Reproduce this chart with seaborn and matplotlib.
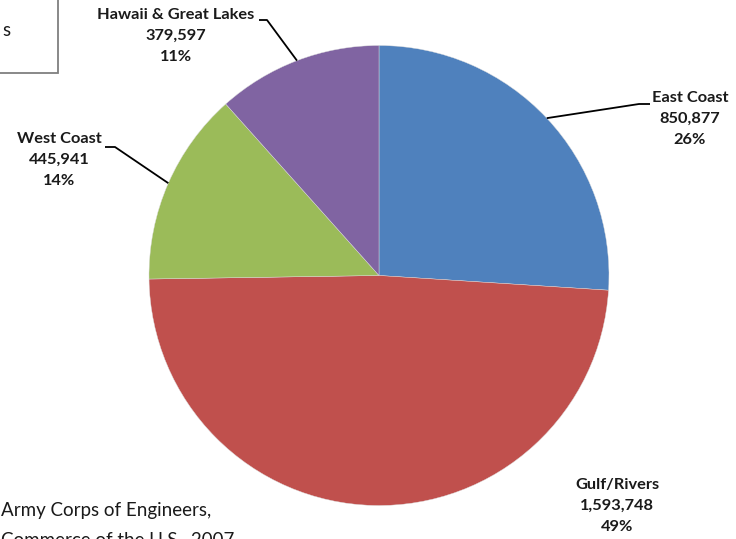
import numpy as np
import matplotlib
matplotlib.use('Agg')
import matplotlib.pyplot as plt
import seaborn as sns
from matplotlib.patches import Rectangle

sns.set_style('white')
plt.rcParams['font.family'] = ['Lato', 'DejaVu Sans']

# data
regions = ['East Coast', 'Gulf/Rivers', 'West Coast', 'Hawaii & Great Lakes']
tons = [850877, 1593748, 445941, 379597]
shares = [26, 49, 14, 11]  # as printed on the chart
colors = ['#4F81BD', '#C0504D', '#9BBB59', '#8064A2']

# label anchor (text centre top) and leader elbow, in pixels from top-left
label_pos = [(690, 91), (617, 478), (59, 132), (176, 8)]
elbow_pos = [(639, 104), None, (115, 147), (267, 20)]
tick_len = [11, 0, -10, -8]

W, H = 736, 539
fig = plt.figure(figsize=(W / 100, H / 100), dpi=100)
ax = fig.add_axes([0, 0, 1, 1])

cx, cy, r = 379, H - 275.5, 230
wedges, _ = ax.pie(tons, colors=colors, startangle=90, counterclock=False,
                   center=(cx, cy), radius=r, frame=True,
                   wedgeprops=dict(linewidth=0.3, edgecolor='#dddddd'))
ax.set_xlim(0, W)
ax.set_ylim(0, H)
ax.set_aspect('equal')
ax.axis('off')

for w, name, val, pct, lp, ep, tl in zip(wedges, regions, tons, shares,
                                         label_pos, elbow_pos, tick_len):
    txt = f'{name}\n{val:,}\n{pct}%'
    ax.text(lp[0], H - lp[1], txt, ha='center', va='top', fontsize=11.8,
            fontweight='bold', color='#1a1a1a', linespacing=1.65)
    if ep is None:
        continue
    mid = np.deg2rad((w.theta1 + w.theta2) / 2)
    px, py = cx + r * np.cos(mid), cy + r * np.sin(mid)
    ex, ey = ep[0], H - ep[1]
    # short horizontal tick next to the label, then line to the wedge
    ax.plot([ex + tl, ex, px], [ey, ey, py], color='black', lw=1.3,
            solid_capstyle='butt')

# cut-off box at top-left
ax.add_patch(Rectangle((-20, H - 73), 78, 100, fill=False,
                       edgecolor='#7f7f7f', lw=1.3))
ax.text(2, H - 30, 's', ha='left', va='center', fontsize=13.5, color='#1a1a1a')

# source note
fig.text(1 / W, 1 - 502 / H, 'Army Corps of Engineers,\nCommerce of the U.S., 2007',
         ha='left', va='top', fontsize=13.5, color='#1a1a1a', linespacing=1.9)

plt.savefig('out.png', dpi=100)
